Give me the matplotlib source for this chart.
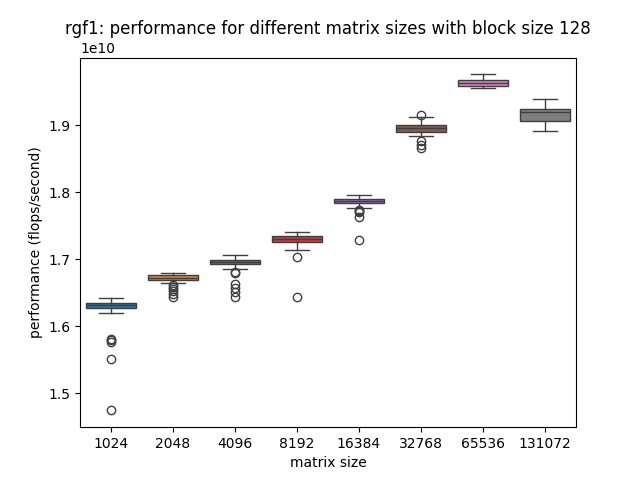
import colorsys
import matplotlib
matplotlib.use('Agg')
import matplotlib.pyplot as plt

# boxplot statistics (units of flops/second)
sizes = ['1024', '2048', '4096', '8192', '16384', '32768', '65536', '131072']
med = [1.6313e10, 1.6724e10, 1.6955e10, 1.7303e10, 1.7868e10, 1.8952e10, 1.9626e10, 1.9195e10]
q1 = [1.6272e10, 1.6694e10, 1.6926e10, 1.7259e10, 1.7832e10, 1.8902e10, 1.9586e10, 1.9065e10]
q3 = [1.6354e10, 1.6758e10, 1.6991e10, 1.7352e10, 1.7902e10, 1.9001e10, 1.9666e10, 1.9235e10]
whislo = [1.6204e10, 1.6639e10, 1.6847e10, 1.7144e10, 1.7764e10, 1.8834e10, 1.9551e10, 1.8912e10]
whishi = [1.6428e10, 1.6798e10, 1.7065e10, 1.7412e10, 1.7961e10, 1.9116e10, 1.9755e10, 1.9392e10]
fliers = [
    [1.5816e10, 1.5791e10, 1.5766e10, 1.5518e10, 1.4746e10],
    [1.6609e10, 1.6580e10, 1.6550e10, 1.6520e10, 1.6475e10, 1.6430e10],
    [1.6813e10, 1.6795e10, 1.6624e10, 1.6575e10, 1.6510e10, 1.6441e10],
    [1.7036e10, 1.6441e10],
    [1.7738e10, 1.7724e10, 1.7704e10, 1.7630e10, 1.7288e10],
    [1.9147e10, 1.8764e10, 1.8705e10, 1.8655e10],
    [],
    [],
]

tab10 = plt.get_cmap('tab10').colors


def desat(c, prop=0.75):
    h, l, s = colorsys.rgb_to_hls(*c)
    return colorsys.hls_to_rgb(h, l, s * prop)


line_c = '#3f3f3f'
stats = []
for i in range(len(sizes)):
    stats.append({'med': med[i], 'q1': q1[i], 'q3': q3[i],
                  'whislo': whislo[i], 'whishi': whishi[i],
                  'fliers': fliers[i], 'label': sizes[i]})

fig, ax = plt.subplots(figsize=(6.4, 4.8), dpi=100)
bp = ax.bxp(stats, positions=range(len(sizes)), widths=0.8,
            capwidths=0.4, patch_artist=True, manage_ticks=True,
            boxprops=dict(edgecolor=line_c, linewidth=1),
            whiskerprops=dict(color=line_c, linewidth=1),
            capprops=dict(color=line_c, linewidth=1),
            medianprops=dict(color=line_c, linewidth=1),
            flierprops=dict(marker='o', markerfacecolor='none',
                            markeredgecolor=line_c, markersize=6,
                            markeredgewidth=1))
for i, box in enumerate(bp['boxes']):
    box.set_facecolor(desat(tab10[i]))

ax.set_xlim(-0.5, len(sizes) - 0.5)
ax.set_ylim(1.4496e10, 2.0005e10)
ax.set_yticks([1.5e10, 1.6e10, 1.7e10, 1.8e10, 1.9e10])
ax.set_title('rgf1: performance for different matrix sizes with block size 128')
ax.set_xlabel('matrix size')
ax.set_ylabel('performance (flops/second)')

plt.savefig('out.png')
